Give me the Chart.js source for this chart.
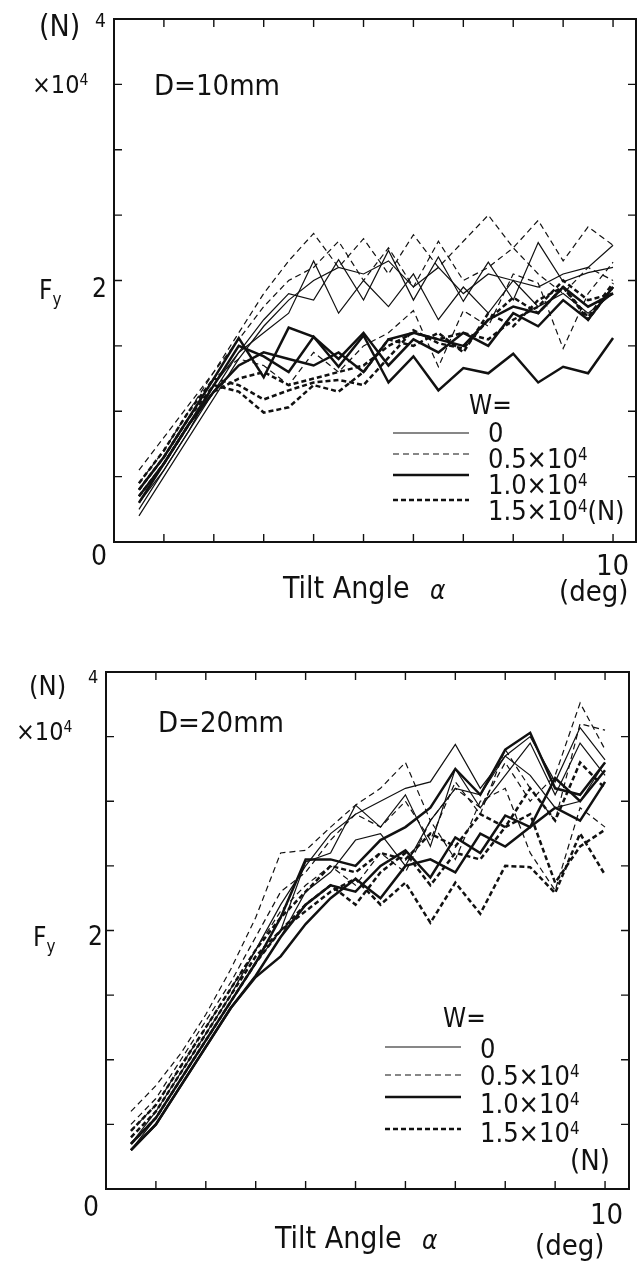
<!DOCTYPE html>
<html>
<head>
<meta charset="utf-8">
<script src="https://cdn.jsdelivr.net/npm/chart.js@4.4.0/dist/chart.umd.min.js"></script>
<style>
body { margin:0; background:#fff; width:643px; height:1261px; position:relative; overflow:hidden;
  font-family:"DejaVu Sans Condensed","Liberation Sans Narrow","Liberation Sans",sans-serif; color:#111; }
canvas { position:absolute; left:0; }
.t { position:absolute; white-space:nowrap; line-height:1; font-size:27px; }
.t sup { font-size:62%; vertical-align:0.5em; line-height:0; }
.t sub { font-size:65%; vertical-align:-0.35em; line-height:0; }
</style>
</head>
<body>
<canvas id="topChart" width="643" height="600" style="top:0"></canvas>
<canvas id="bottomChart" width="643" height="620" style="top:620px"></canvas>

<!-- top panel texts -->
<div class="t" style="left:39px;top:11px;font-size:30px">(N)</div>
<div class="t" style="left:95px;top:11px;font-size:19px">4</div>
<div class="t" style="left:32px;top:72px;font-size:25px">×10<sup>4</sup></div>
<div class="t" style="left:154px;top:71px;font-size:29px">D=10mm</div>
<div class="t" style="left:39px;top:277px;font-size:26px">F<sub>y</sub></div>
<div class="t" style="left:92px;top:275px;font-size:26px">2</div>
<div class="t" style="left:91px;top:542px;font-size:28px">0</div>
<div class="t" style="left:283px;top:573px;font-size:30px">Tilt Angle</div>
<div class="t" style="left:430px;top:577px;font-size:26px;font-style:italic">α</div>
<div class="t" style="left:596px;top:551px;font-size:29px">10</div>
<div class="t" style="left:559px;top:577px;font-size:29px">(deg)</div>
<div class="t" style="left:469px;top:392px;font-size:26px">W=</div>
<div class="t" style="left:488px;top:419px">0</div>
<div class="t" style="left:488px;top:445px">0.5×10<sup>4</sup></div>
<div class="t" style="left:488px;top:471px">1.0×10<sup>4</sup></div>
<div class="t" style="left:488px;top:497px">1.5×10<sup>4</sup>(N)</div>

<!-- bottom panel texts -->
<div class="t" style="left:29px;top:672px;font-size:27px">(N)</div>
<div class="t" style="left:88px;top:668px;font-size:18px">4</div>
<div class="t" style="left:16px;top:719px;font-size:25px">×10<sup>4</sup></div>
<div class="t" style="left:158px;top:708px;font-size:29px">D=20mm</div>
<div class="t" style="left:33px;top:924px;font-size:26px">F<sub>y</sub></div>
<div class="t" style="left:88px;top:923px;font-size:26px">2</div>
<div class="t" style="left:83px;top:1193px;font-size:28px">0</div>
<div class="t" style="left:275px;top:1223px;font-size:30px">Tilt Angle</div>
<div class="t" style="left:422px;top:1227px;font-size:26px;font-style:italic">α</div>
<div class="t" style="left:590px;top:1200px;font-size:29px">10</div>
<div class="t" style="left:535px;top:1231px;font-size:29px">(deg)</div>
<div class="t" style="left:443px;top:1005px;font-size:26px">W=</div>
<div class="t" style="left:480px;top:1035px">0</div>
<div class="t" style="left:480px;top:1062px">0.5×10<sup>4</sup></div>
<div class="t" style="left:480px;top:1090px">1.0×10<sup>4</sup></div>
<div class="t" style="left:480px;top:1119px">1.5×10<sup>4</sup></div>
<div class="t" style="left:570px;top:1146px;font-size:29px">(N)</div>

<script>
// tilt angle (deg), one point every 0.5 deg
const angles = [0.5, 1, 1.5, 2, 2.5, 3, 3.5, 4, 4.5, 5, 5.5, 6, 6.5, 7, 7.5, 8, 8.5, 9, 9.5, 10];
const wLabels = ["0", "0.5×10⁴", "1.0×10⁴", "1.5×10⁴"];

// D=10mm, Fy in 10^4 N
const d10W0a = [0.2, 0.5, 0.8, 1.1, 1.4, 1.65, 1.85, 2.0, 2.1, 2.05, 2.15, 1.95, 2.1, 1.9, 2.05, 2.0, 1.95, 2.05, 2.1, 2.27];
const d10W0b = [0.3, 0.55, 0.85, 1.15, 1.45, 1.7, 1.9, 1.85, 2.16, 1.85, 2.23, 1.85, 2.18, 1.84, 2.14, 1.85, 2.29, 1.99, 2.06, 2.1];
const d10W0c = [0.25, 0.55, 0.85, 1.2, 1.45, 1.6, 1.75, 2.15, 1.75, 2.0, 1.8, 2.05, 1.7, 1.95, 1.75, 2.0, 1.8, 1.9, 1.75, 1.9];
const d10W05a = [0.55, 0.8, 1.05, 1.3, 1.6, 1.9, 2.15, 2.36, 2.1, 2.32, 2.05, 2.35, 2.1, 2.3, 2.5, 2.25, 2.46, 2.15, 2.41, 2.27];
const d10W05b = [0.45, 0.7, 1.0, 1.3, 1.55, 1.8, 2.0, 2.1, 2.3, 2.0, 2.25, 1.95, 2.3, 2.0, 2.1, 2.25, 2.05, 1.9, 2.1, 2.0];
const d10W05c = [0.4, 0.65, 0.95, 1.25, 1.4, 1.35, 1.2, 1.45, 1.3, 1.5, 1.6, 1.77, 1.34, 1.77, 1.65, 2.05, 1.98, 1.48, 1.9, 2.14];
const d10W10a = [0.35, 0.6, 0.9, 1.2, 1.5, 1.42, 1.3, 1.57, 1.34, 1.58, 1.22, 1.42, 1.16, 1.33, 1.29, 1.44, 1.22, 1.34, 1.29, 1.56];
const d10W10b = [0.4, 0.65, 0.95, 1.25, 1.56, 1.26, 1.64, 1.57, 1.4, 1.6, 1.35, 1.55, 1.45, 1.6, 1.5, 1.75, 1.65, 1.85, 1.7, 1.95];
const d10W10c = [0.3, 0.6, 0.9, 1.15, 1.35, 1.45, 1.4, 1.35, 1.45, 1.3, 1.55, 1.6, 1.55, 1.5, 1.7, 1.8, 1.75, 1.95, 1.8, 1.9];
const d10W15a = [0.45, 0.7, 1.0, 1.25, 1.2, 1.09, 1.16, 1.22, 1.24, 1.2, 1.41, 1.62, 1.52, 1.48, 1.7, 1.87, 1.75, 1.95, 1.72, 1.98];
const d10W15b = [0.4, 0.65, 0.95, 1.2, 1.15, 0.99, 1.03, 1.2, 1.15, 1.3, 1.55, 1.5, 1.6, 1.45, 1.75, 1.65, 1.85, 1.95, 1.7, 1.95];
const d10W15c = [0.35, 0.6, 0.9, 1.15, 1.25, 1.3, 1.2, 1.25, 1.3, 1.35, 1.5, 1.6, 1.55, 1.6, 1.55, 1.7, 1.8, 2.0, 1.85, 1.9];

// D=20mm
const d20W0a = [0.35, 0.6, 0.9, 1.2, 1.5, 1.85, 2.2, 2.5, 2.75, 2.9, 3.0, 3.1, 3.15, 3.44, 3.1, 3.35, 3.5, 3.15, 3.57, 3.32];
const d20W0b = [0.3, 0.55, 0.85, 1.15, 1.45, 1.75, 2.0, 2.53, 2.6, 2.97, 2.8, 3.05, 2.65, 3.25, 2.95, 3.2, 3.45, 3.05, 3.45, 3.2];
const d20W0c = [0.3, 0.5, 0.8, 1.1, 1.4, 1.65, 1.95, 2.3, 2.45, 2.7, 2.75, 2.5, 2.85, 3.1, 3.05, 3.35, 3.2, 2.95, 3.0, 3.3];
const d20W05a = [0.6, 0.8, 1.05, 1.35, 1.7, 2.1, 2.6, 2.62, 2.8, 2.97, 3.1, 3.3, 2.85, 3.1, 2.95, 3.3, 3.0, 3.2, 3.76, 3.4];
const d20W05b = [0.5, 0.7, 1.0, 1.3, 1.6, 1.95, 2.3, 2.45, 2.7, 2.9, 2.8, 3.0, 2.7, 3.15, 2.9, 3.4, 3.1, 2.85, 3.6, 3.55];
const d20W05c = [0.45, 0.65, 0.95, 1.25, 1.55, 1.85, 2.15, 2.35, 2.5, 2.35, 2.6, 2.45, 2.85, 2.55, 3.0, 3.1, 2.6, 2.31, 2.95, 2.8];
const d20W10a = [0.3, 0.5, 0.8, 1.1, 1.4, 1.65, 1.95, 2.2, 2.35, 2.3, 2.5, 2.62, 2.41, 2.72, 2.6, 2.89, 2.8, 3.18, 3.0, 3.24];
const d20W10b = [0.35, 0.55, 0.85, 1.15, 1.45, 1.75, 2.1, 2.55, 2.55, 2.5, 2.7, 2.8, 2.95, 3.25, 3.05, 3.4, 3.53, 3.1, 3.05, 3.3];
const d20W10c = [0.3, 0.5, 0.8, 1.1, 1.4, 1.64, 1.8, 2.05, 2.25, 2.4, 2.25, 2.5, 2.55, 2.45, 2.75, 2.65, 2.8, 2.95, 2.85, 3.15];
const d20W15a = [0.35, 0.55, 0.85, 1.15, 1.45, 1.75, 2.0, 2.15, 2.3, 2.4, 2.2, 2.37, 2.06, 2.37, 2.13, 2.5, 2.49, 2.29, 2.75, 2.43];
const d20W15b = [0.4, 0.6, 0.9, 1.2, 1.5, 1.8, 2.0, 2.2, 2.35, 2.2, 2.45, 2.6, 2.35, 2.6, 2.55, 2.8, 2.9, 2.37, 2.65, 2.78];
const d20W15c = [0.45, 0.65, 0.95, 1.25, 1.55, 1.85, 2.1, 2.3, 2.5, 2.45, 2.6, 2.55, 2.75, 2.65, 2.9, 2.8, 3.1, 2.85, 3.3, 3.1];

// line look for each W
const lineStyles = [
  { width: 1.2, dash: [] },
  { width: 1.2, dash: [6, 4] },
  { width: 2.5, dash: [] },
  { width: 2.5, dash: [5, 3] },
];

function makeDatasets(groups) {
  const sets = [];
  groups.forEach((group, w) => {
    group.forEach((vals) => {
      sets.push({
        label: wLabels[w],
        data: angles.map((a, i) => ({ x: a, y: vals[i] })),
        borderColor: "#111",
        borderWidth: lineStyles[w].width,
        borderDash: lineStyles[w].dash,
        pointRadius: 0,
        tension: 0,
        fill: false,
      });
    });
  });
  return sets;
}

// box, inward ticks and legend samples
const framePlugin = {
  id: "frame",
  afterDraw(chart, args, opts) {
    const { ctx, chartArea: a } = chart;
    const x = chart.scales.x;
    const y = chart.scales.y;
    ctx.save();
    ctx.strokeStyle = "#111";
    ctx.setLineDash([]);
    ctx.lineWidth = 2;
    ctx.strokeRect(a.left, a.top, a.right - a.left, a.bottom - a.top);
    ctx.lineWidth = 1.4;
    ctx.beginPath();
    for (let v = 0.5; v < 4; v += 0.5) {
      const py = y.getPixelForValue(v);
      ctx.moveTo(a.left, py); ctx.lineTo(a.left + 8, py);
      ctx.moveTo(a.right, py); ctx.lineTo(a.right - 8, py);
    }
    for (let v = 1; v <= 10; v++) {
      const px = x.getPixelForValue(v);
      ctx.moveTo(px, a.bottom); ctx.lineTo(px, a.bottom - 8);
      ctx.moveTo(px, a.top); ctx.lineTo(px, a.top + 8);
    }
    ctx.stroke();
    // legend sample lines
    opts.legendY.forEach((ly, w) => {
      ctx.beginPath();
      ctx.lineWidth = lineStyles[w].width;
      ctx.setLineDash(lineStyles[w].dash);
      ctx.moveTo(opts.legendX[0], ly);
      ctx.lineTo(opts.legendX[1], ly);
      ctx.stroke();
    });
    ctx.restore();
  },
};

function makeChart(id, groups, pad, xMax, legend) {
  return new Chart(document.getElementById(id), {
    type: "line",
    data: { datasets: makeDatasets(groups) },
    options: {
      responsive: false,
      animation: false,
      layout: { padding: pad },
      scales: {
        x: { type: "linear", min: 0, max: xMax, display: false },
        y: { min: 0, max: 4, display: false },
      },
      plugins: {
        legend: { display: false },
        tooltip: { enabled: false },
        frame: legend,
      },
    },
    plugins: [framePlugin],
  });
}

makeChart("topChart",
  [[d10W0a, d10W0b, d10W0c], [d10W05a, d10W05b, d10W05c], [d10W10a, d10W10b, d10W10c], [d10W15a, d10W15b, d10W15c]],
  { left: 114, top: 19, right: 7, bottom: 58 }, 10.46,
  { legendX: [393, 469], legendY: [433, 454, 475, 500] });

makeChart("bottomChart",
  [[d20W0a, d20W0b, d20W0c], [d20W05a, d20W05b, d20W05c], [d20W10a, d20W10b, d20W10c], [d20W15a, d20W15b, d20W15c]],
  { left: 106, top: 52, right: 14, bottom: 51 }, 10.48,
  { legendX: [385, 461], legendY: [427, 455, 477, 509] });
</script>
</body>
</html>
